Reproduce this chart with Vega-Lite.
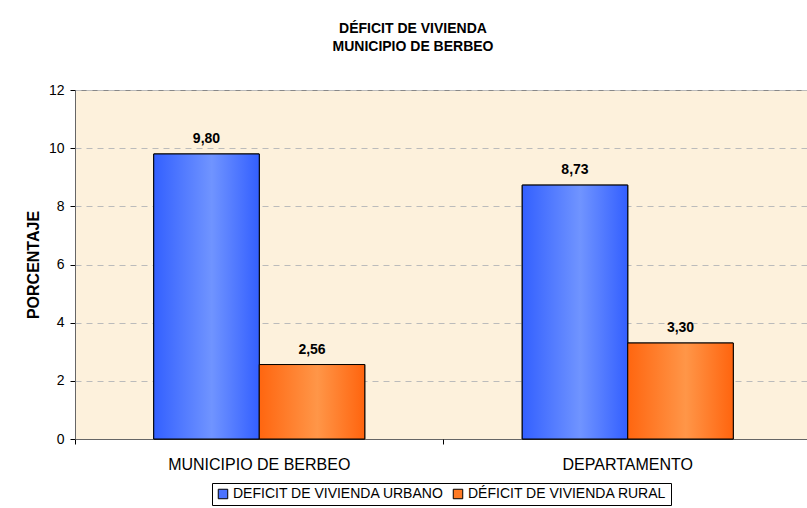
{
  "$schema": "https://vega.github.io/schema/vega-lite/v6.json",
  "width": 732,
  "height": 349,
  "autosize": "none",
  "padding": {"left": 75, "top": 90, "right": 0, "bottom": 69},
  "background": "white",
  "title": {
    "text": ["DÉFICIT DE VIVIENDA", "MUNICIPIO DE BERBEO"],
    "font": "Liberation Sans",
    "fontSize": 14,
    "fontWeight": "bold",
    "color": "#000000",
    "anchor": "middle",
    "frame": "group",
    "dx": -28,
    "lineHeight": 18,
    "offset": 29
  },
  "config": {
    "locale": {"number": {"decimal": ",", "thousands": ".", "grouping": [3], "currency": ["", " €"]}},
    "font": "Liberation Sans",
    "view": {"fill": "#FDF1DC", "stroke": "#888888"}
  },
  "data": {
    "values": [
      {"grupo": "MUNICIPIO DE BERBEO", "serie": "DEFICIT DE VIVIENDA URBANO", "valor": 9.80},
      {"grupo": "MUNICIPIO DE BERBEO", "serie": "DÉFICIT DE VIVIENDA RURAL", "valor": 2.56},
      {"grupo": "DEPARTAMENTO", "serie": "DEFICIT DE VIVIENDA URBANO", "valor": 8.73},
      {"grupo": "DEPARTAMENTO", "serie": "DÉFICIT DE VIVIENDA RURAL", "valor": 3.30}
    ]
  },
  "encoding": {
    "xOffset": {
      "field": "serie", "type": "nominal", "sort": ["DEFICIT DE VIVIENDA URBANO", "DÉFICIT DE VIVIENDA RURAL"],
      "scale": {"paddingInner": 0, "paddingOuter": 0.746}
    },
    "y": {
      "field": "valor", "type": "quantitative",
      "scale": {"domain": [0, 12], "nice": false},
      "axis": {
        "title": "PORCENTAJE", "titleFontSize": 16, "titleFontWeight": "bold", "titleColor": "#000000", "titlePadding": 7,
        "values": [0, 2, 4, 6, 8, 10, 12], "format": "d",
        "labelFontSize": 14, "labelColor": "#000000", "labelPadding": 6,
        "tickSize": 5, "tickColor": "#000000", "domainColor": "#666666",
        "grid": true, "gridColor": "#BBBBBB", "gridDash": [6, 5]
      }
    }
  },
  "resolve": {"axis": {"x": "independent"}},
  "layer": [
    {
      "mark": {"type": "bar", "stroke": "#000000", "strokeWidth": 1},
      "encoding": {
        "x": {
          "field": "grupo", "type": "nominal", "sort": ["MUNICIPIO DE BERBEO", "DEPARTAMENTO"],
          "scale": {"paddingInner": 0, "paddingOuter": 0, "range": [0, 737]},
          "axis": {"title": null, "labelAngle": 0, "ticks": false, "labelPadding": 17, "labelFontSize": 16, "labelLimit": 400, "labelColor": "#000000", "domainColor": "#666666", "labelFont": "Liberation Sans", "grid": false}
        },
        "color": {
          "field": "serie", "type": "nominal", "sort": ["DEFICIT DE VIVIENDA URBANO", "DÉFICIT DE VIVIENDA RURAL"],
          "scale": {"domain": ["DEFICIT DE VIVIENDA URBANO", "DÉFICIT DE VIVIENDA RURAL"], "range": ["#4A72FF", "#FF7A24"]},
          "legend": {
            "title": null, "orient": "none", "legendX": 137, "legendY": 393, "direction": "horizontal",
            "strokeColor": "#000000", "fillColor": "#FFFFFF", "padding": 4,
            "symbolType": "square", "symbolSize": 90, "symbolStrokeColor": "#000000", "symbolStrokeWidth": 1,
            "labelFontSize": 14, "labelColor": "#000000", "labelOffset": 3, "columnPadding": 7, "labelLimit": 400, "labelFont": "Liberation Sans"
          }
        }
      }
    },
    {
      "mark": {"type": "bar", "stroke": "#000000", "strokeWidth": 1},
      "encoding": {
        "x": {
          "field": "grupo", "type": "nominal", "sort": ["MUNICIPIO DE BERBEO", "DEPARTAMENTO"],
          "axis": {"orient": "bottom", "bandPosition": 0, "labels": false, "domain": false, "ticks": true, "tickSize": 5, "tickColor": "#000000", "title": null, "grid": false}
        },
        "fill": {
          "condition": {
            "test": "datum.serie === 'DEFICIT DE VIVIENDA URBANO'",
            "value": {"gradient": "linear", "x1": 0, "x2": 1, "y1": 0, "y2": 0, "stops": [
              {"offset": 0, "color": "#3360FF"}, {"offset": 0.55, "color": "#7094FF"}, {"offset": 1, "color": "#335FFF"}]}
          },
          "value": {"gradient": "linear", "x1": 0, "x2": 1, "y1": 0, "y2": 0, "stops": [
            {"offset": 0, "color": "#FF6610"}, {"offset": 0.55, "color": "#FF9648"}, {"offset": 1, "color": "#FF640E"}]}
        }
      }
    },
    {
      "mark": {"type": "text", "fontWeight": "bold", "fontSize": 14, "baseline": "alphabetic", "dy": -11, "color": "#000000"},
      "encoding": {
        "x": {"field": "grupo", "type": "nominal", "sort": ["MUNICIPIO DE BERBEO", "DEPARTAMENTO"], "axis": null},
        "text": {"field": "valor", "type": "quantitative", "format": ".2f"}
      }
    }
  ]
}
